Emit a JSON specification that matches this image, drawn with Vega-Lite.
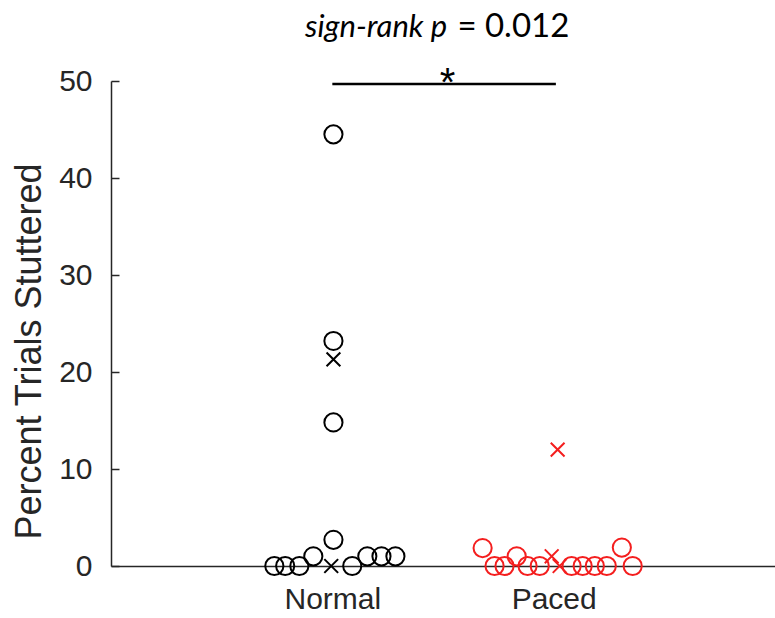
{
  "$schema": "https://vega.github.io/schema/vega-lite/v6.json",
  "autosize": "none",
  "width": 664,
  "height": 485,
  "padding": {"left": 111, "top": 81, "right": 0, "bottom": 52},
  "background": "white",
  "config": {
    "view": {"stroke": null},
    "axis": {"grid": false, "labelFont": "Liberation Sans", "titleFont": "Liberation Sans", "labelColor": "#262626", "titleColor": "#262626", "domainColor": "#262626", "tickColor": "#262626", "domainWidth": 1.5, "tickWidth": 1.5, "titleFontWeight": "normal"}
  },
  "layer": [
    {
      "data": {"values": [
        {"group": "Normal", "marker": "o", "x": 0.738, "y": 0},
        {"group": "Normal", "marker": "o", "x": 0.787, "y": 0},
        {"group": "Normal", "marker": "o", "x": 0.851, "y": 0},
        {"group": "Normal", "marker": "o", "x": 0.914, "y": 1.0},
        {"group": "Normal", "marker": "x", "x": 0.995, "y": 0},
        {"group": "Normal", "marker": "o", "x": 1.090, "y": 0},
        {"group": "Normal", "marker": "o", "x": 1.158, "y": 1.0},
        {"group": "Normal", "marker": "o", "x": 1.222, "y": 1.0},
        {"group": "Normal", "marker": "o", "x": 1.285, "y": 1.0},
        {"group": "Normal", "marker": "o", "x": 1.005, "y": 2.7},
        {"group": "Normal", "marker": "o", "x": 1.005, "y": 14.8},
        {"group": "Normal", "marker": "o", "x": 1.005, "y": 23.2},
        {"group": "Normal", "marker": "x", "x": 1.005, "y": 21.3},
        {"group": "Normal", "marker": "o", "x": 1.005, "y": 44.5},
        {"group": "Paced", "marker": "o", "x": 1.679, "y": 1.85},
        {"group": "Paced", "marker": "o", "x": 1.733, "y": 0},
        {"group": "Paced", "marker": "o", "x": 1.778, "y": 0},
        {"group": "Paced", "marker": "o", "x": 1.833, "y": 1.0},
        {"group": "Paced", "marker": "o", "x": 1.882, "y": 0},
        {"group": "Paced", "marker": "o", "x": 1.937, "y": 0},
        {"group": "Paced", "marker": "x", "x": 1.991, "y": 1.0},
        {"group": "Paced", "marker": "x", "x": 2.027, "y": 0},
        {"group": "Paced", "marker": "o", "x": 2.081, "y": 0},
        {"group": "Paced", "marker": "o", "x": 2.131, "y": 0},
        {"group": "Paced", "marker": "o", "x": 2.186, "y": 0},
        {"group": "Paced", "marker": "o", "x": 2.240, "y": 0},
        {"group": "Paced", "marker": "o", "x": 2.308, "y": 1.9},
        {"group": "Paced", "marker": "o", "x": 2.357, "y": 0},
        {"group": "Paced", "marker": "x", "x": 2.018, "y": 12.0}
      ]},
      "mark": {"type": "point", "filled": false, "strokeWidth": 2, "opacity": 1},
      "encoding": {
        "x": {"field": "x", "type": "quantitative", "scale": {"domain": [0, 3], "nice": false, "zero": false},
          "axis": {"title": null, "values": [1, 2], "labelExpr": "datum.value == 1 ? 'Normal' : 'Paced'", "ticks": false, "labelFontSize": 30, "labelPadding": 18}},
        "y": {"field": "y", "type": "quantitative", "scale": {"domain": [0, 50], "nice": false},
          "axis": {"title": "Percent Trials Stuttered", "values": [0, 10, 20, 30, 40, 50], "ticks": true, "tickSize": -8, "labelFontSize": 30, "labelPadding": 27, "titleFontSize": 36, "titleX": -82, "titleY": 270, "titleAlign": "center", "titleBaseline": "middle", "titleAngle": -90}},
        "color": {"field": "group", "type": "nominal", "scale": {"domain": ["Normal", "Paced"], "range": ["#000000", "#f41e1e"]}, "legend": null},
        "shape": {"field": "marker", "type": "nominal", "scale": {"domain": ["o", "x"], "range": ["circle", "M-1,-1L1,1M-1,1L1,-1"]}, "legend": null},
        "size": {"field": "marker", "type": "nominal", "scale": {"domain": ["o", "x"], "range": [330, 190]}, "legend": null}
      }
    },
    {
      "data": {"values": [{"x1": 1.0, "x2": 2.01, "y": 49.7}]},
      "mark": {"type": "rule", "strokeWidth": 2.5, "color": "#000000", "clip": false},
      "encoding": {"x": {"field": "x1", "type": "quantitative"}, "x2": {"field": "x2"}, "y": {"field": "y", "type": "quantitative"}}
    },
    {
      "data": {"values": [{"x": 1.52, "y": 48.5, "label": "*"}]},
      "mark": {"type": "text", "font": "Liberation Sans", "fontSize": 40, "align": "center", "baseline": "alphabetic", "color": "#000000", "clip": false},
      "encoding": {"x": {"field": "x", "type": "quantitative"}, "y": {"field": "y", "type": "quantitative"}, "text": {"field": "label"}}
    },
    {
      "data": {"values": [{"x": 1.519, "y": 54.5, "label": "sign-rank p"}]},
      "mark": {"type": "text", "font": "Lato", "fontSize": 31, "fontStyle": "italic", "align": "right", "baseline": "alphabetic", "color": "#000000", "clip": false},
      "encoding": {"x": {"field": "x", "type": "quantitative"}, "y": {"field": "y", "type": "quantitative"}, "text": {"field": "label"}}
    },
    {
      "data": {"values": [{"x": 1.565, "y": 54.5, "label": "= 0.012"}]},
      "mark": {"type": "text", "font": "Lato", "fontSize": 33, "align": "left", "baseline": "alphabetic", "color": "#000000", "clip": false},
      "encoding": {"x": {"field": "x", "type": "quantitative"}, "y": {"field": "y", "type": "quantitative"}, "text": {"field": "label"}}
    }
  ]
}
